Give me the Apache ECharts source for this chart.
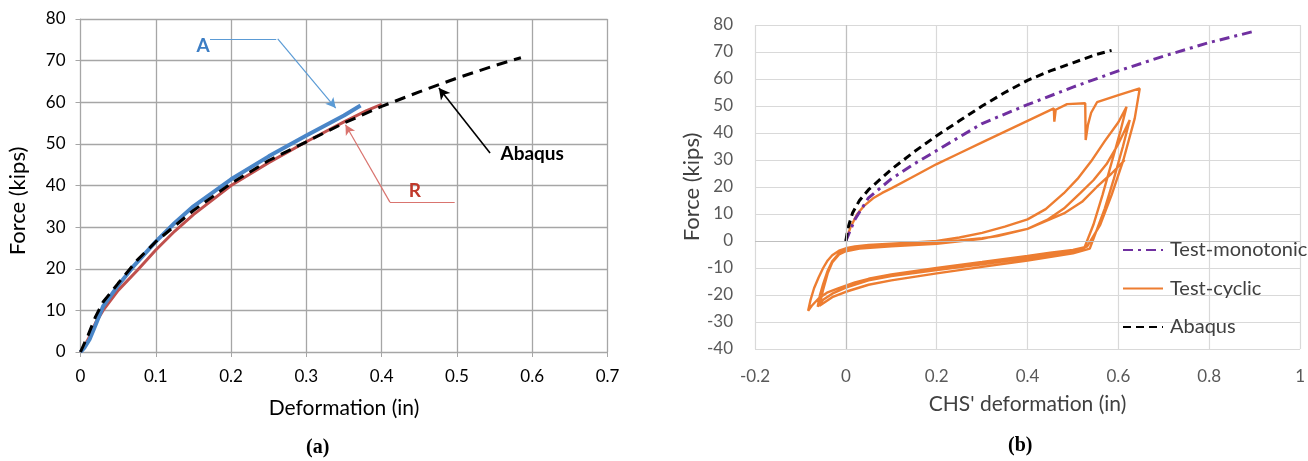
<!DOCTYPE html>
<html>
<head>
<meta charset="utf-8">
<script src="https://cdn.jsdelivr.net/npm/echarts@6/dist/echarts.min.js"></script>
<style>
  html, body { margin: 0; background: #fff; }
  #chart { width: 1308px; height: 461px; }
</style>
</head>
<body>
<div id="chart"></div>
<script>
// (a) monotonic comparison: [deformation (in), force (kips)]
const curveA = [[0,0],[0.005,1],[0.012,3],[0.02,6.5],[0.03,11],[0.04,13.5],[0.05,16],[0.07,20.5],[0.1,26.5],[0.125,31],[0.15,35],[0.2,41.5],[0.25,47],[0.3,52],[0.35,56.8],[0.372,59.2]];
const curveR = [[0,0],[0.01,3],[0.02,7],[0.03,10],[0.05,14.8],[0.075,19.5],[0.1,24.5],[0.125,29],[0.15,33],[0.2,40],[0.25,45.5],[0.3,50.5],[0.35,55.3],[0.38,58],[0.4,59.5]];
const abaqusA = [[0,0],[0.01,4],[0.02,8.5],[0.03,12],[0.05,16.5],[0.075,22],[0.1,26.5],[0.15,34],[0.2,40.5],[0.25,46],[0.3,50.5],[0.35,55],[0.4,59],[0.45,62.5],[0.5,65.8],[0.55,68.8],[0.585,70.7]];

// (b) cyclic test
const monotonicB = [[0,0],[0.02,8],[0.05,16],[0.1,23],[0.15,28.5],[0.2,33.5],[0.25,38.5],[0.3,43.5],[0.4,50.5],[0.5,57],[0.6,63],[0.7,68.5],[0.8,73.5],[0.895,77.5]];
const abaqusB = [[0,0],[0.005,5],[0.015,10.5],[0.03,15],[0.05,19],[0.1,26.5],[0.15,33],[0.2,39],[0.25,44.5],[0.3,50],[0.35,55],[0.4,59.5],[0.45,63],[0.5,66],[0.55,69],[0.585,70.6]];
const cyclicB = [
  // virgin loading with the two drops
  [0,0],[0.01,5],[0.025,10],[0.04,13],[0.06,15.8],[0.08,17.8],[0.1,19.5],[0.15,24],[0.2,28.5],[0.25,32.5],[0.3,36.5],[0.35,40.5],[0.4,44.5],[0.458,49.1],
  [0.459,44.2],[0.462,48.6],[0.487,50.7],[0.527,51],[0.528,37.4],[0.533,43],[0.54,47.5],[0.553,51.4],[0.6,54],[0.647,56.5],
  // unload 1 + compression
  [0.636,45.4],[0.611,30],[0.585,17],[0.56,6],[0.531,-2.1],[0.5,-3.3],[0.45,-4.3],[0.4,-5.5],[0.3,-7.8],[0.2,-10],[0.15,-11.2],[0.1,-12.4],[0.05,-14],[0.02,-15.3],[0,-16.5],[-0.02,-17.7],[-0.04,-19],[-0.06,-21.3],[-0.075,-24],[-0.083,-25.8],
  // reload 1
  [-0.078,-22],[-0.07,-17.5],[-0.06,-13.5],[-0.05,-10],[-0.04,-7.2],[-0.03,-5.3],[-0.015,-3.6],[0,-2.7],[0.02,-2],[0.05,-1.5],[0.1,-1],[0.15,-0.5],[0.2,0],[0.25,1.3],[0.3,3],[0.35,5.3],[0.4,8],[0.44,11.8],[0.48,17.7],[0.51,23],[0.54,29.5],[0.57,37],[0.6,44],[0.618,49.7],
  // unload 2 + compression
  [0.605,41],[0.585,29],[0.565,17],[0.545,6],[0.525,-2.6],[0.5,-3.8],[0.4,-6.3],[0.3,-8.6],[0.2,-10.8],[0.1,-13],[0.05,-14.6],[0,-17.3],[-0.03,-19.5],[-0.05,-21.8],[-0.062,-24.3],
  // reload 2
  [-0.057,-20],[-0.05,-16],[-0.04,-11],[-0.03,-7.5],[-0.015,-4.5],[0,-3.3],[0.03,-2.4],[0.1,-1.6],[0.2,-0.6],[0.3,1],[0.334,1.8],[0.4,4.5],[0.443,7.8],[0.48,12],[0.516,17.7],[0.545,22.5],[0.574,28.5],[0.6,36],[0.625,44.8],
  // unload 3 + compression
  [0.61,35],[0.59,23],[0.57,12],[0.55,3],[0.537,-2.8],[0.5,-4.6],[0.4,-7.2],[0.3,-9.6],[0.2,-12],[0.1,-14.6],[0.05,-16.2],[0,-18.8],[-0.03,-20.8],[-0.058,-24],
  // reload 3
  [-0.05,-18],[-0.04,-12],[-0.03,-8],[-0.015,-5],[0,-3.8],[0.03,-2.8],[0.1,-2],[0.2,-1],[0.3,0.8],[0.4,4.5],[0.48,10.2],[0.52,14.5],[0.553,20.1],[0.585,25],[0.614,30]
];

const xTicksA = [0, 0.7, 0.1];
const yTicksA = [0, 80, 10];
const xTicksB = [-0.2, 1, 0.2];
const yTicksB = [-40, 80, 10];

const font = 'Lato, "Open Sans", sans-serif';
const gridA = '#a6a6a6';
const gridB = '#d9d9d9';

const chart = echarts.init(document.getElementById('chart'));
chart.setOption({
  animation: false,
  textStyle: { fontFamily: font },
  grid: [
    { left: 80.5, top: 19, width: 527, height: 333 },
    { left: 755, top: 25, width: 549, height: 324 }
  ],
  xAxis: [
    {
      gridIndex: 0, type: 'value', min: xTicksA[0], max: xTicksA[1], interval: xTicksA[2],
      name: 'Deformation (in)', nameLocation: 'middle', nameGap: 46,
      nameTextStyle: { fontSize: 21, color: '#000', fontFamily: font },
      axisLine: { show: true, lineStyle: { color: gridA } },
      axisTick: { show: true, length: 5, lineStyle: { color: gridA } },
      axisLabel: { fontSize: 17, color: '#000', margin: 16 },
      splitLine: { show: true, lineStyle: { color: gridA, width: 1.3 } }
    },
    {
      gridIndex: 1, type: 'value', min: xTicksB[0], max: xTicksB[1], interval: xTicksB[2],
      name: "CHS' deformation (in)", nameLocation: 'middle', nameGap: 45,
      nameTextStyle: { fontSize: 21, color: '#404040', fontFamily: font },
      axisLine: { show: false },
      axisTick: { show: false },
      axisLabel: { fontSize: 17, color: '#595959', margin: 19 },
      splitLine: { show: true, lineStyle: { color: gridB, width: 1.2 } }
    }
  ],
  yAxis: [
    {
      gridIndex: 0, type: 'value', min: yTicksA[0], max: yTicksA[1], interval: yTicksA[2],
      axisLine: { show: true, lineStyle: { color: gridA } },
      axisTick: { show: true, length: 5, lineStyle: { color: gridA } },
      axisLabel: { fontSize: 17, color: '#000', margin: 15 },
      splitLine: { show: true, lineStyle: { color: gridA, width: 1.3 } }
    },
    {
      gridIndex: 1, type: 'value', min: yTicksB[0], max: yTicksB[1], interval: yTicksB[2],
      name: 'Force (kips)', nameLocation: 'middle', nameGap: 52,
      nameTextStyle: { fontSize: 22, color: '#404040', fontFamily: font },
      axisLine: { show: false },
      axisTick: { show: false },
      axisLabel: { fontSize: 17, color: '#595959', margin: 22 },
      splitLine: { show: true, lineStyle: { color: gridB, width: 1.2 } }
    }
  ],
  legend: {
    orient: 'vertical', left: 1117, top: 234,
    itemWidth: 40, itemHeight: 14, itemGap: 16.5,
    itemStyle: { opacity: 0 },
    textStyle: { fontSize: 20, color: '#404040', lineHeight: 22, fontFamily: font, padding: [0, 0, 0, 2] },
    data: ['Test-monotonic', 'Test-cyclic', 'Abaqus']
  },
  graphic: [
    // left y-axis title sits a little below the plot centre in the original
    {
      type: 'text', x: 18, y: 201, rotation: Math.PI / 2,
      style: { text: 'Force (kips)', font: '22px Lato, sans-serif', fill: '#000', align: 'center', verticalAlign: 'middle' }
    },
    { type: 'text', left: 306, top: 438, style: { text: '(a)', font: 'bold 20px "Liberation Serif", serif', fill: '#000' } },
    { type: 'text', left: 1008, top: 436, style: { text: '(b)', font: 'bold 20px "Liberation Serif", serif', fill: '#000' } }
  ],
  series: [
    {
      name: 'R', type: 'line', xAxisIndex: 0, yAxisIndex: 0, data: curveR,
      showSymbol: false, symbol: 'none', lineStyle: { color: '#c0504d', width: 3 },
      markLine: {
        silent: true, symbol: ['none', 'none'],
        label: { show: false },
        data: [
          [{ coord: [0.26, 75.2], symbol: 'none', lineStyle: { color: '#5b9bd5', width: 1.2, type: 'solid' } }, { coord: [0.172, 75.2], symbol: 'none' }],
          [{ coord: [0.262, 75.2], symbol: 'none', lineStyle: { color: '#5b9bd5', width: 1.2, type: 'solid' } }, { coord: [0.339, 58.6], symbol: 'arrow', symbolSize: [8, 10] }],
          [{ coord: [0.497, 36], symbol: 'none', lineStyle: { color: '#d9746f', width: 1.2, type: 'solid' } }, { coord: [0.411, 36], symbol: 'none' }],
          [{ coord: [0.411, 36], symbol: 'none', lineStyle: { color: '#d9746f', width: 1.2, type: 'solid' } }, { coord: [0.352, 54.6], symbol: 'arrow', symbolSize: [8, 10] }],
          [{ coord: [0.544, 47.8], symbol: 'none', lineStyle: { color: '#000', width: 1.6, type: 'solid' } }, { coord: [0.476, 63.4], symbol: 'arrow', symbolSize: [9, 11] }]
        ]
      },
      markPoint: {
        silent: true, symbol: 'circle', symbolSize: 1,
        itemStyle: { color: 'rgba(0,0,0,0)' },
        data: [
          { coord: [0.163, 73.6], label: { show: true, position: 'inside', formatter: 'A', color: '#3b7dc4', fontSize: 19, fontWeight: 'bold' } },
          { coord: [0.444, 38.8], label: { show: true, position: 'inside', formatter: 'R', color: '#c0392b', fontSize: 19, fontWeight: 'bold' } },
          { coord: [0.6, 47.6], label: { show: true, position: 'inside', formatter: 'Abaqus', color: '#000', fontSize: 19, fontWeight: 'bold' } }
        ]
      }
    },
    {
      name: 'A', type: 'line', xAxisIndex: 0, yAxisIndex: 0, data: curveA,
      showSymbol: false, symbol: 'none', lineStyle: { color: '#4a86c8', width: 4 }
    },
    {
      name: 'Abaqus (a)', type: 'line', xAxisIndex: 0, yAxisIndex: 0, data: abaqusA,
      showSymbol: false, symbol: 'none', lineStyle: { color: '#000', width: 3, type: [11, 7] }
    },
    {
      name: 'Test-cyclic', type: 'line', xAxisIndex: 1, yAxisIndex: 1, data: cyclicB,
      showSymbol: false, symbol: 'none', color: '#ed7d31', lineStyle: { color: '#ed7d31', width: 2.4 },
      markLine: {
        silent: true, symbol: ['none', 'none'], label: { show: false },
        lineStyle: { color: '#bfbfbf', width: 1.2, type: 'solid' },
        data: [{ xAxis: 0 }, { yAxis: 0 }]
      },
      z: 2
    },
    {
      name: 'Test-monotonic', type: 'line', xAxisIndex: 1, yAxisIndex: 1, data: monotonicB,
      showSymbol: false, symbol: 'none', color: '#7030a0', lineStyle: { color: '#7030a0', width: 3, type: [10, 5, 3, 5] },
      z: 3
    },
    {
      name: 'Abaqus', type: 'line', xAxisIndex: 1, yAxisIndex: 1, data: abaqusB,
      showSymbol: false, symbol: 'none', color: '#000', lineStyle: { color: '#000', width: 3, type: [8, 5] },
      z: 4
    }
  ]
});
</script>
</body>
</html>
